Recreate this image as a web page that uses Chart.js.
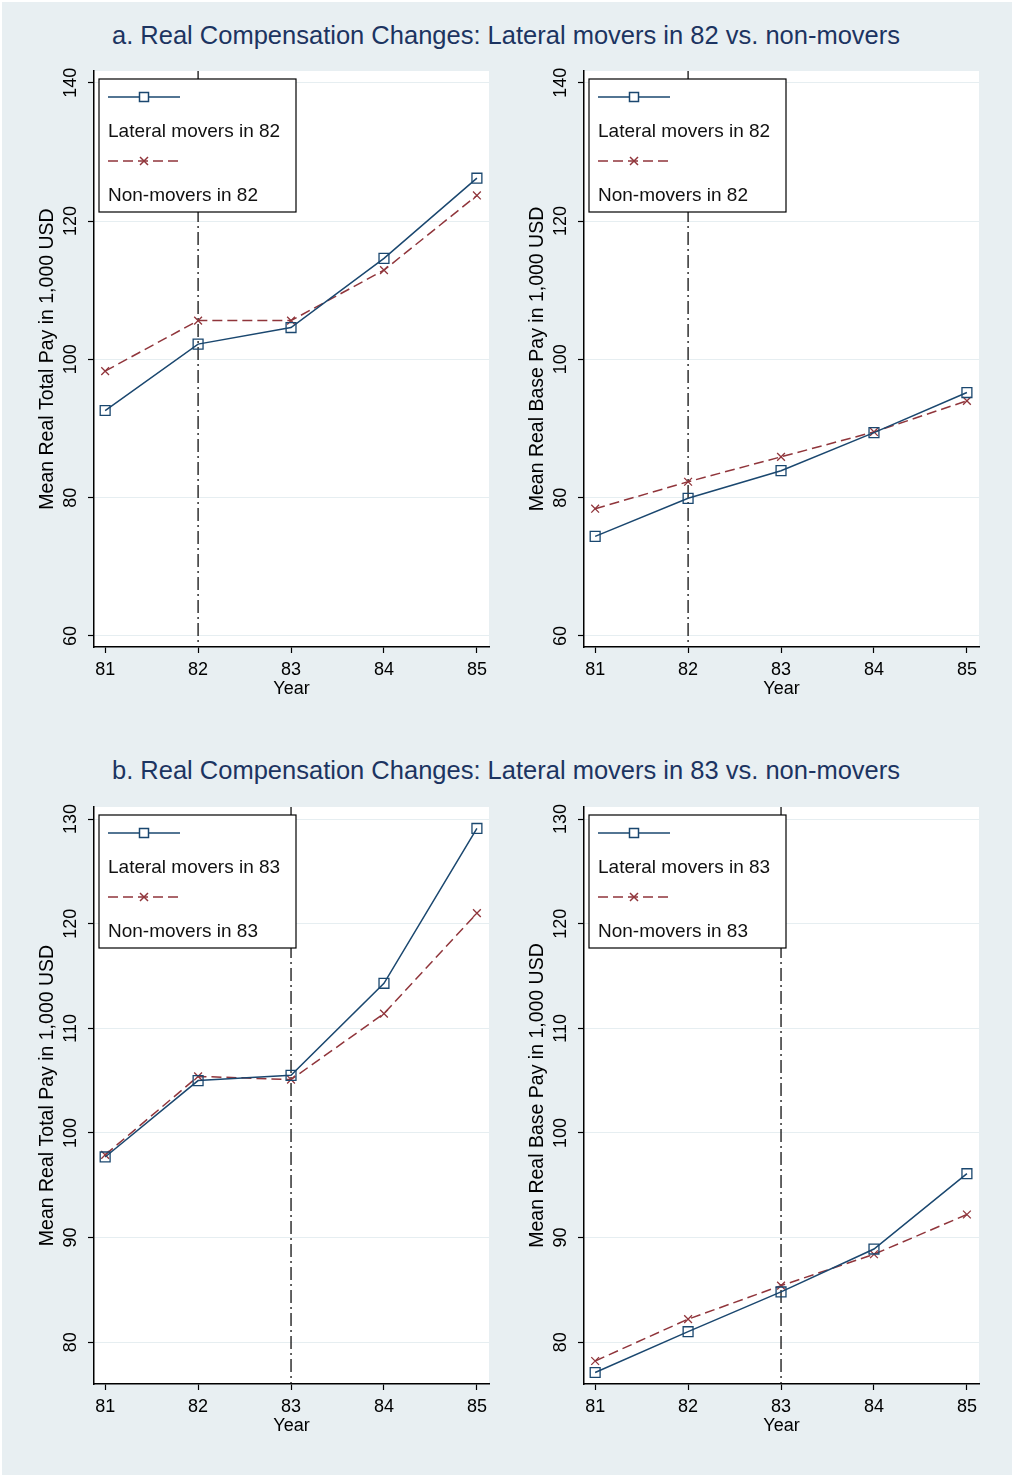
<!DOCTYPE html>
<html>
<head>
<meta charset="utf-8">
<script src="https://cdn.jsdelivr.net/npm/chart.js@4.4.0/dist/chart.umd.min.js"></script>
<style>
body { margin: 0; background: #fff; }
#wrap { position: relative; width: 1012px; height: 1475px; background: #e8eff2; box-shadow: inset 2px 2px 0 #fff; overflow: hidden; }
.title { position: absolute; left: 0; width: 1012px; text-align: center; font: 25.5px "Liberation Sans", Arial, sans-serif; color: #1c3461; line-height: 30px; }
canvas { position: absolute; }
</style>
</head>
<body>
<div id="wrap">
  <div class="title" style="top:20px">a. Real Compensation Changes: Lateral movers in 82 vs. non-movers</div>
  <div class="title" style="top:755px">b. Real Compensation Changes: Lateral movers in 83 vs. non-movers</div>
  <canvas id="a1" width="500" height="660" style="left:0;top:60px"></canvas>
  <canvas id="a2" width="500" height="660" style="left:490px;top:60px"></canvas>
  <canvas id="b1" width="500" height="660" style="left:0;top:795px"></canvas>
  <canvas id="b2" width="500" height="660" style="left:490px;top:795px"></canvas>
</div>
<script>
var years = [81, 82, 83, 84, 85]

// panel a: movers in 82
var totalMovers82 = [92.6, 102.2, 104.6, 114.6, 126.2]
var totalStay82 = [98.3, 105.6, 105.6, 112.9, 123.7]
var baseMovers82 = [74.4, 79.9, 83.9, 89.4, 95.2]
var baseStay82 = [78.4, 82.3, 85.9, 89.5, 94.0]

// panel b: movers in 83
var totalMovers83 = [97.7, 105.0, 105.5, 114.3, 129.1]
var totalStay83 = [97.9, 105.4, 105.1, 111.4, 121.0]
var baseMovers83 = [77.1, 81.0, 84.8, 88.9, 96.1]
var baseStay83 = [78.2, 82.2, 85.4, 88.4, 92.2]

var ticksA = [60, 80, 100, 120, 140]
var ticksB = [80, 90, 100, 110, 120, 130]

var BLUE = '#1a476f', RED = '#90353b'
var FONT = '"Liberation Sans", Arial, sans-serif'

var stataPlugin = {
    id: 'stata',
    beforeDraw(chart) {
        let ctx = chart.ctx, a = chart.chartArea
        ctx.save()
        ctx.fillStyle = '#fff'
        ctx.fillRect(a.left, a.top, a.right - a.left, a.bottom - a.top)
        ctx.restore()
    },
    beforeDatasetsDraw(chart, args, o) {
        // dash-dot line at the move year
        let ctx = chart.ctx, a = chart.chartArea
        let px = chart.scales.x.getPixelForValue(o.year)
        ctx.save()
        ctx.strokeStyle = '#111'
        ctx.lineWidth = 1.3
        ctx.setLineDash([13, 4, 2, 4])
        ctx.beginPath()
        ctx.moveTo(px, a.top)
        ctx.lineTo(px, a.bottom)
        ctx.stroke()
        ctx.restore()
    },
    afterDraw(chart, args, o) {
        let ctx = chart.ctx, a = chart.chartArea
        let x = chart.scales.x, y = chart.scales.y
        ctx.save()
        ctx.fillStyle = '#000'
        ctx.font = '18px ' + FONT
        ctx.textAlign = 'center'
        ctx.textBaseline = 'middle'

        // y tick labels, rotated
        y.ticks.forEach(function (t) {
            let py = y.getPixelForValue(t.value)
            ctx.save()
            ctx.translate(a.left - 23, py)
            ctx.rotate(-Math.PI / 2)
            ctx.fillText(String(t.value), 0, 0)
            ctx.restore()
        })
        // x tick labels
        x.ticks.forEach(function (t) {
            ctx.fillText(String(t.value), x.getPixelForValue(t.value), a.bottom + 23)
        })
        ctx.fillText('Year', (a.left + a.right) / 2, a.bottom + 42)

        // y title
        ctx.save()
        ctx.translate(48, (a.top + a.bottom) / 2)
        ctx.rotate(-Math.PI / 2)
        ctx.font = '19.5px ' + FONT
        ctx.fillText(o.ytitle, 0, 0)
        ctx.restore()

        // legend box
        let lx = a.left + 5, ly = a.top + 8
        ctx.fillStyle = '#fff'
        ctx.fillRect(lx, ly, 197, 133)
        ctx.strokeStyle = '#000'
        ctx.lineWidth = 1.2
        ctx.strokeRect(lx, ly, 197, 133)

        let ds = chart.data.datasets
        // line sample 1
        let sy = a.top + 26
        ctx.strokeStyle = ds[0].borderColor
        ctx.lineWidth = 1.5
        ctx.beginPath(); ctx.moveTo(a.left + 14, sy); ctx.lineTo(a.left + 86, sy); ctx.stroke()
        ctx.fillStyle = '#fff'
        ctx.fillRect(a.left + 45.5, sy - 4.5, 9, 9)
        ctx.strokeRect(a.left + 45.5, sy - 4.5, 9, 9)
        // line sample 2
        sy = a.top + 90
        ctx.strokeStyle = ds[1].borderColor
        ctx.setLineDash([10, 5])
        ctx.beginPath(); ctx.moveTo(a.left + 14, sy); ctx.lineTo(a.left + 86, sy); ctx.stroke()
        ctx.setLineDash([])
        ctx.beginPath()
        ctx.moveTo(a.left + 46, sy - 4); ctx.lineTo(a.left + 54, sy + 4)
        ctx.moveTo(a.left + 54, sy - 4); ctx.lineTo(a.left + 46, sy + 4)
        ctx.stroke()

        ctx.fillStyle = '#111'
        ctx.textAlign = 'left'
        ctx.font = '19px ' + FONT
        ctx.fillText(ds[0].label, a.left + 14, a.top + 61)
        ctx.fillText(ds[1].label, a.left + 14, a.top + 125)
        ctx.restore()
    }
}

function makePanel(id, movers, stay, yMin, yMax, yTicks, moveYear, ytitle, padTop, xHeight) {
    let ctx = document.getElementById(id).getContext('2d')
    return new Chart(ctx, {
        type: 'line',
        data: {
            datasets: [{
                label: 'Lateral movers in ' + moveYear,
                data: years.map((yr, i) => ({ x: yr, y: movers[i] })),
                borderColor: BLUE,
                borderWidth: 1.5,
                pointStyle: 'rect',
                pointRadius: 7,
                pointBorderWidth: 1.3,
                pointBorderColor: BLUE,
                pointBackgroundColor: 'rgba(255,255,255,0)',
                tension: 0
            }, {
                label: 'Non-movers in ' + moveYear,
                data: years.map((yr, i) => ({ x: yr, y: stay[i] })),
                borderColor: RED,
                borderWidth: 1.5,
                borderDash: [10, 5],
                pointStyle: 'crossRot',
                pointRadius: 5.5,
                pointBorderWidth: 1.3,
                pointBorderColor: RED,
                tension: 0
            }]
        },
        options: {
            responsive: false,
            animation: false,
            layout: { padding: { left: 0, top: padTop, right: 11, bottom: 0 } },
            plugins: {
                legend: { display: false },
                tooltip: { enabled: false },
                stata: { year: moveYear, ytitle: ytitle }
            },
            scales: {
                x: {
                    type: 'linear',
                    min: 80.88,
                    max: 85.13,
                    afterBuildTicks: s => { s.ticks = years.map(v => ({ value: v })) },
                    afterFit: s => { s.height = xHeight },
                    ticks: { display: false },
                    grid: { drawOnChartArea: false, drawTicks: true, tickLength: 6, tickColor: '#000', tickWidth: 1.2 },
                    border: { display: true, color: '#000', width: 1.5 }
                },
                y: {
                    min: yMin,
                    max: yMax,
                    afterBuildTicks: s => { s.ticks = yTicks.map(v => ({ value: v })) },
                    afterFit: s => { s.width = 94 },
                    ticks: { display: false },
                    grid: { color: '#e6eef1', lineWidth: 1, drawTicks: true, tickLength: 6, tickColor: '#000', tickWidth: 1.2 },
                    border: { display: true, color: '#000', width: 1.5 }
                }
            }
        },
        plugins: [stataPlugin]
    })
}

makePanel('a1', totalMovers82, totalStay82, 58.4, 141.7, ticksA, 82, 'Mean Real Total Pay in 1,000 USD', 11, 73)
makePanel('a2', baseMovers82, baseStay82, 58.4, 141.7, ticksA, 82, 'Mean Real Base Pay in 1,000 USD', 11, 73)
makePanel('b1', totalMovers83, totalStay83, 76.0, 131.15, ticksB, 83, 'Mean Real Total Pay in 1,000 USD', 12, 71)
makePanel('b2', baseMovers83, baseStay83, 76.0, 131.15, ticksB, 83, 'Mean Real Base Pay in 1,000 USD', 12, 71)
</script>
</body>
</html>
